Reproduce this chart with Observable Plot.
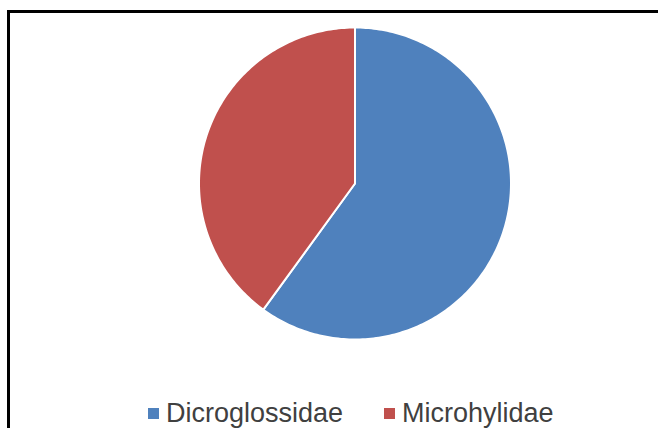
<!DOCTYPE html>
<html>
<head>
<meta charset="utf-8">
<script src="https://cdn.jsdelivr.net/npm/d3@7"></script>
<script src="https://cdn.jsdelivr.net/npm/@observablehq/plot@0.6"></script>
<style>
  html, body { margin: 0; padding: 0; background: #fff; }
  #wrap { position: relative; width: 658px; height: 428px; overflow: hidden; background: #fff; }
  #frame { position: absolute; left: 7px; top: 10px; width: 700px; height: 500px;
           border-left: 3px solid #000; border-top: 3px solid #000; box-sizing: border-box; }
  #chart { position: absolute; left: 0; top: 0; }
  #legend { position: absolute; top: 397px; left: 0; width: 658px; height: 40px;
            font-family: "Liberation Sans", Arial, sans-serif; font-size: 27px; color: #404040; }
  .item { position: absolute; top: 0; white-space: nowrap; }
  .sw { position: absolute; width: 11px; height: 11px; top: 11px; }
  .lbl { position: absolute; top: 0; line-height: 32px; }
</style>
</head>
<body>
<div id="wrap">
  <div id="frame"></div>
  <div id="chart"></div>
  <div id="legend"></div>
</div>
<script>
const categories = ["Dicroglossidae", "Microhylidae"];
const values = [60, 40];
const colors = ["#4F81BD", "#C0504D"];

// Build slice polygons from data (unit circle, clockwise from top)
const pie = d3.pie().sort(null).value(d => d.value);
const arcs = pie(categories.map((c, i) => ({category: c, value: values[i]})));
const N = 360;
const features = arcs.map(a => {
  const coords = [[0, 0]];
  const steps = Math.max(2, Math.ceil((a.endAngle - a.startAngle) / (2 * Math.PI) * N));
  for (let k = 0; k <= steps; k++) {
    const t = a.startAngle + (a.endAngle - a.startAngle) * k / steps;
    coords.push([Math.sin(t), Math.cos(t)]);
  }
  coords.push([0, 0]);
  return {type: "Feature", properties: {category: a.data.category}, geometry: {type: "Polygon", coordinates: [coords]}};
});
const circle = {type: "Polygon", coordinates: [d3.range(0, 361, 2).map(d => [Math.sin(d * Math.PI / 180), Math.cos(d * Math.PI / 180)])]};

const cx = 354.5, cy = 183, r = 156;
const plot = Plot.plot({
  width: 658,
  height: 428,
  marginLeft: cx - r,
  marginRight: 658 - (cx + r),
  marginTop: cy - r,
  marginBottom: 428 - (cy + r),
  projection: {type: "reflect-y", domain: circle},
  color: {domain: categories, range: colors},
  style: {background: "transparent"},
  marks: [
    Plot.geo(features, {fill: d => d.properties.category, stroke: "#fff", strokeWidth: 2, strokeLinejoin: "round"})
  ]
});
document.getElementById("chart").appendChild(plot);

// Legend
const legend = document.getElementById("legend");
const pos = [{sw: 148, lbl: 166}, {sw: 384, lbl: 402}];
categories.forEach((c, i) => {
  const sw = document.createElement("div");
  sw.className = "sw"; sw.style.left = pos[i].sw + "px"; sw.style.background = colors[i];
  const lb = document.createElement("div");
  lb.className = "lbl"; lb.style.left = pos[i].lbl + "px"; lb.textContent = c;
  legend.appendChild(sw); legend.appendChild(lb);
});
</script>
</body>
</html>
